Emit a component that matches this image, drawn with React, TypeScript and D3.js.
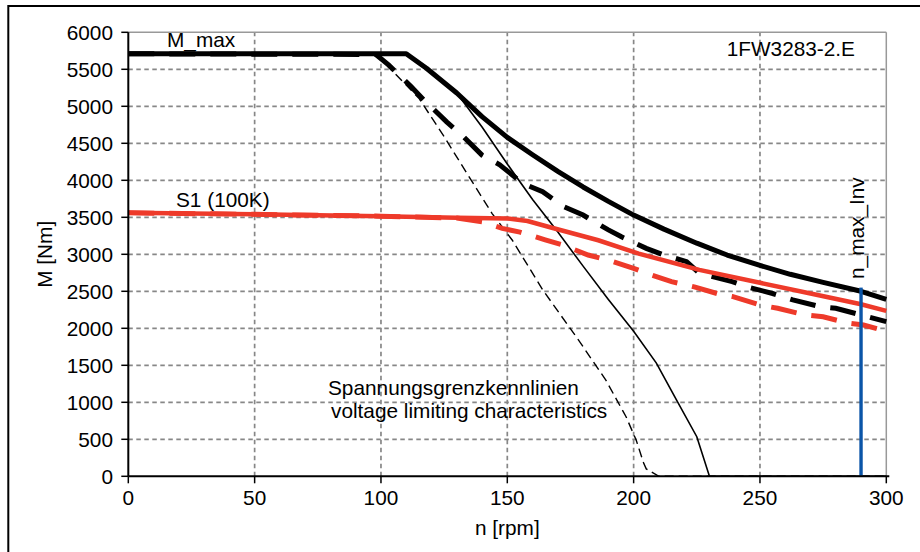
import React from 'react';
import * as d3 from 'd3';

// ---- data (n [rpm], M [Nm]) ----
const xTickValues = [0, 50, 100, 150, 200, 250, 300];
const yTickValues = [0, 500, 1000, 1500, 2000, 2500, 3000, 3500, 4000, 4500, 5000, 5500, 6000];

const mMax: [number, number][] = [
  [0, 5710], [110, 5710], [118, 5515], [130, 5180], [140, 4860], [150, 4580], [160, 4345],
  [170, 4120], [180, 3910], [190, 3715], [200, 3530], [212, 3340], [225, 3150], [237, 2990],
  [250, 2850], [262, 2730], [275, 2620], [290, 2500], [300, 2390],
];
const mMaxReduced: [number, number][] = [
  [0, 5710], [98, 5700], [103, 5560], [112, 5265], [117, 5085], [126, 4790], [132, 4610],
  [140, 4340], [147, 4210], [156, 3960], [164, 3845], [172, 3650], [180, 3530], [190, 3330],
  [195, 3240], [205, 3080], [212, 2990], [221, 2900], [226, 2745], [239, 2630], [245, 2560],
  [255, 2470], [263, 2385], [274, 2290], [280, 2270], [290, 2180], [300, 2090],
];
const voltageLimit: [number, number][] = [
  [130, 5180], [140, 4720], [150, 4220], [160, 3740], [170, 3300], [180, 2840], [190, 2390],
  [200, 1960], [209, 1530], [217, 1030], [225, 535], [230, 0], [300, 0],
];
const voltageLimitReduced: [number, number][] = [
  [98, 5700], [101, 5600], [115, 5110], [125, 4590], [134, 4095], [144, 3550], [152, 3190],
  [164, 2520], [178, 1850], [189, 1300], [197, 805], [201, 490], [204, 175], [205, 100],
  [210, 0], [300, 0],
];
const s1: [number, number][] = [
  [0, 3560], [50, 3540], [100, 3515], [130, 3495], [150, 3485], [158, 3450], [168, 3355],
  [186, 3190], [202, 3010], [226, 2790], [250, 2615], [270, 2470], [290, 2325], [300, 2235],
];
const s1Reduced: [number, number][] = [
  [0, 3560], [50, 3540], [100, 3515], [130, 3490], [140, 3440], [148, 3350], [155, 3300],
  [165, 3195], [172, 3125], [182, 2990], [190, 2920], [200, 2810], [205, 2745], [215, 2630],
  [224, 2560], [233, 2470], [239, 2430], [250, 2315], [257, 2270], [268, 2180], [275, 2155],
  [285, 2070], [291, 2045], [300, 1960],
];
const nMaxInv = 290;
const nMaxInvTop = 2550;

const labels = {
  mMax: 'M_max',
  s1: 'S1 (100K)',
  motor: '1FW3283-2.E',
  vl1: 'Spannungsgrenzkennlinien',
  vl2: 'voltage limiting characteristics',
  nMax: 'n_max_Inv',
  xTitle: 'n [rpm]',
  yTitle: 'M [Nm]',
};

// ---- layout ----
const W = 920;
const H = 552;
const PL = 128.3;
const PR = 886.3;
const PT = 32.3;
const PB = 476.3;
const FONT = '"Liberation Sans", Arial, Helvetica, sans-serif';
const FS = 20.8;
const RED = '#ee3a2a';
const BLUE = '#0b55a8';
const GRID = '#878787';

export default function App() {
  const x = d3.scaleLinear().domain([0, 300]).range([PL, PR]);
  const y = d3.scaleLinear().domain([0, 6000]).range([PB, PT]);
  const line = d3
    .line<[number, number]>()
    .x((d) => x(d[0]))
    .y((d) => y(d[1]));

  return (
    <svg
      width={W}
      height={H}
      viewBox={`0 0 ${W} ${H}`}
      style={{ position: 'absolute', left: 0, top: 0, display: 'block', background: '#fff' }}
      fontFamily={FONT}
    >
      <rect x={0} y={0} width={W} height={H} fill="#fff" />
      {/* outer frame */}
      <rect x={8.3} y={6} width={1000} height={1000} fill="none" stroke="#000" strokeWidth={2} />

      {/* grid */}
      {xTickValues.filter((v) => v > 0 && v < 300).map((v) => (
        <line key={'gx' + v} x1={x(v)} x2={x(v)} y1={y(0)} y2={y(6000)} stroke={GRID} strokeWidth={1.7} strokeDasharray="4.5,3.5" />
      ))}
      {yTickValues.filter((v) => v > 0 && v < 6000).map((v) => (
        <line key={'gy' + v} x1={x(0)} x2={x(300)} y1={y(v)} y2={y(v)} stroke={GRID} strokeWidth={1.7} strokeDasharray="4.5,3.5" />
      ))}
      {/* plot border top/right */}
      <line x1={x(0)} x2={x(300)} y1={y(6000)} y2={y(6000)} stroke="#999" strokeWidth={1.5} />
      <line x1={x(300)} x2={x(300)} y1={y(6000)} y2={y(0)} stroke="#999" strokeWidth={1.5} />

      {/* curves */}
      <path d={line(voltageLimitReduced) || ''} fill="none" stroke="#000" strokeWidth={1.4} strokeDasharray="9,5" />
      <path d={line(voltageLimit) || ''} fill="none" stroke="#000" strokeWidth={1.6} />
      <path d={line(mMaxReduced) || ''} fill="none" stroke="#000" strokeWidth={5} strokeDasharray="26,15" />
      <path d={line(s1Reduced) || ''} fill="none" stroke={RED} strokeWidth={5} strokeDasharray="26,15" />
      <path d={line(s1) || ''} fill="none" stroke={RED} strokeWidth={4.5} />
      <path d={line(mMax) || ''} fill="none" stroke="#000" strokeWidth={5} strokeLinejoin="round" />

      {/* n_max_Inv */}
      <line x1={x(nMaxInv)} x2={x(nMaxInv)} y1={y(nMaxInvTop)} y2={y(0)} stroke={BLUE} strokeWidth={3.4} />

      {/* axes */}
      <line x1={x(0)} x2={x(300) + 3} y1={y(0)} y2={y(0)} stroke="#000" strokeWidth={2} />
      <line x1={x(0)} x2={x(0)} y1={y(0)} y2={y(6000)} stroke="#000" strokeWidth={2} />
      {yTickValues.map((v) => (
        <g key={'yt' + v}>
          <line x1={x(0) - 7} x2={x(0)} y1={y(v)} y2={y(v)} stroke="#000" strokeWidth={1.5} />
          <text x={113} y={y(v)} dy="0.35em" textAnchor="end" fontSize={FS} fill="#000">
            {v}
          </text>
        </g>
      ))}
      {xTickValues.map((v) => (
        <g key={'xt' + v}>
          <line x1={x(v)} x2={x(v)} y1={y(0)} y2={y(0) + 7} stroke="#000" strokeWidth={1.5} />
          <text x={x(v)} y={505} textAnchor="middle" fontSize={FS} fill="#000">
            {v}
          </text>
        </g>
      ))}

      {/* titles */}
      <text x={(PL + PR) / 2} y={535} textAnchor="middle" fontSize={FS} fill="#000">
        {labels.xTitle}
      </text>
      <text transform={`translate(52,${(PT + PB) / 2}) rotate(-90)`} textAnchor="middle" fontSize={FS} fill="#000">
        {labels.yTitle}
      </text>

      {/* annotations */}
      <text x={167} y={47} fontSize={FS} fill="#000">{labels.mMax}</text>
      <text x={176} y={207} fontSize={FS} fill="#000">{labels.s1}</text>
      <text x={855} y={56} textAnchor="end" fontSize={FS} fill="#000">{labels.motor}</text>
      <text x={328} y={395} fontSize={FS} fill="#000">{labels.vl1}</text>
      <text x={331} y={418} fontSize={FS} fill="#000">{labels.vl2}</text>
      <text transform={`translate(864,279) rotate(-90)`} fontSize={FS} fill="#000">
        {labels.nMax}
      </text>
    </svg>
  );
}
